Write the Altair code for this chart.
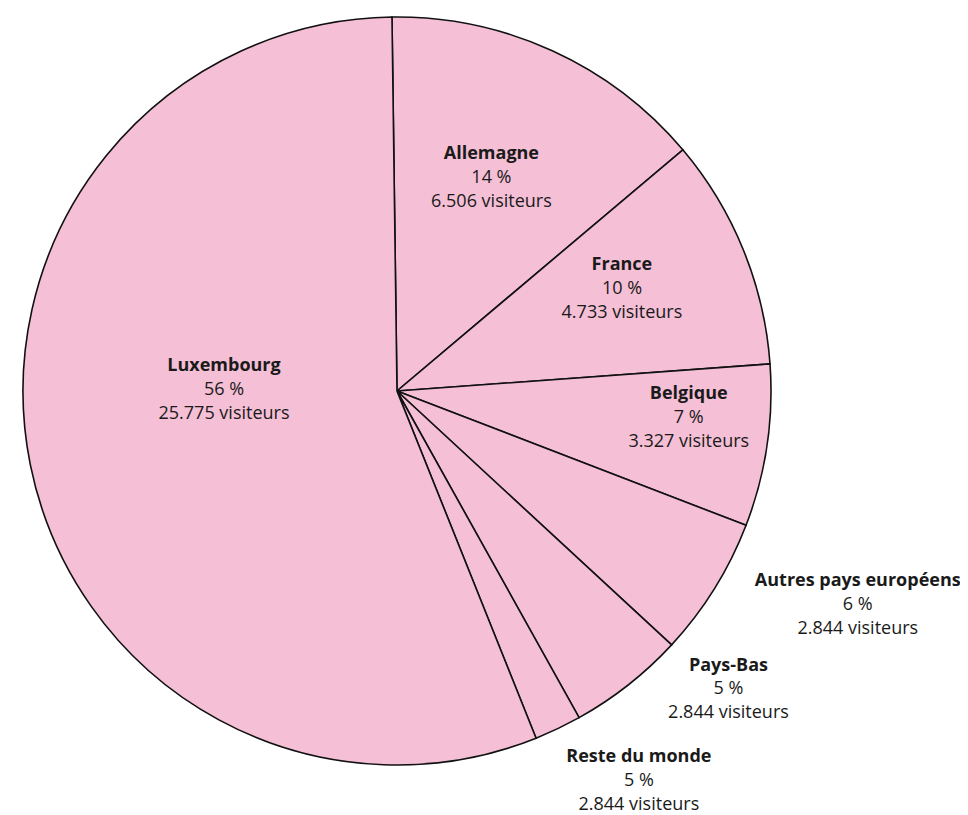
import math
import altair as alt
import pandas as pd

# Data
categories = ["Allemagne", "France", "Belgique", "Autres pays européens",
              "Pays-Bas", "Reste du monde", "Luxembourg"]
shares = [14.06, 10.0, 7.0, 6.03, 5.03, 2.03, 55.85]   # slice sizes (angles)
pct_labels = ["14 %", "10 %", "7 %", "6 %", "5 %", "5 %", "56 %"]
visitor_labels = ["6.506 visiteurs", "4.733 visiteurs", "3.327 visiteurs",
                  "2.844 visiteurs", "2.844 visiteurs", "2.844 visiteurs",
                  "25.775 visiteurs"]

# Label placement (polar: angle in degrees from top clockwise, radius in px)
label_angle = [23.9, 65.6, 95.3, 114.9, 132.0, 148.2, -89.7]
label_radius = [233, 247, 293, 508, 446, 459, 173]

df = pd.DataFrame({
    "cat": categories,
    "share": shares,
    "order": list(range(len(categories))),
    "pct": pct_labels,
    "vis": visitor_labels,
    "la": [math.radians(a) for a in label_angle],
    "lr": label_radius,
})

start = math.radians(-0.77)
FONT = "Open Sans"
FS = 18
LINE = 23.8

base = alt.Chart(df)

pie = base.mark_arc(outerRadius=374, stroke="#111111", strokeWidth=1.6,
                    fill="#F5BFD6").encode(
    theta=alt.Theta("share:Q", stack=True,
                    scale=alt.Scale(range=[start, start + 2 * math.pi])),
    order=alt.Order("order:Q"),
)

def text_layer(field, dy, weight):
    return base.mark_text(font=FONT, fontSize=FS, fontWeight=weight,
                          color="#1a1a1a", align="center", baseline="middle",
                          dy=dy).encode(
        theta=alt.Theta("la:Q", scale=None, stack=False),
        radius=alt.Radius("lr:Q", scale=None),
        text=alt.Text(f"{field}:N"),
    )

chart = alt.layer(
    pie,
    text_layer("cat", -LINE, "bold"),
    text_layer("pct", 0, "normal"),
    text_layer("vis", LINE, "normal"),
).properties(
    width=778, height=766,
    padding={"left": 0, "top": 0, "right": 174, "bottom": 41},
    autosize=alt.AutoSizeParams(type="none"),
).configure_view(stroke=None)

chart.save("out.html", embed_options={"renderer": "svg", "actions": False})
